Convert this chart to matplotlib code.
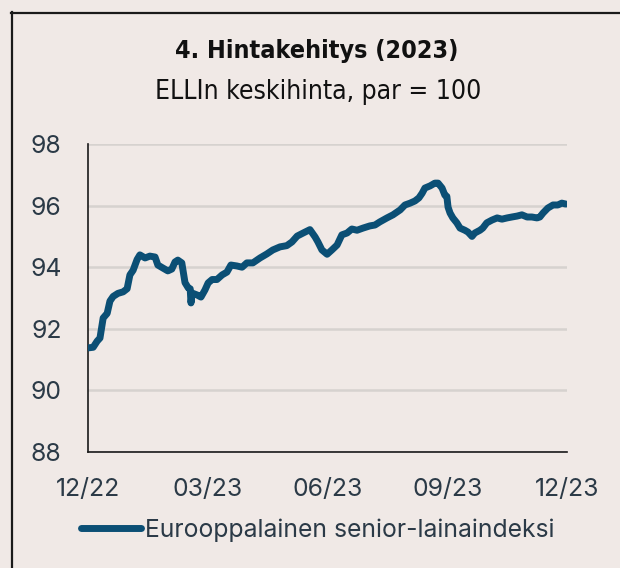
import matplotlib
matplotlib.use('Agg')
import matplotlib.pyplot as plt
from matplotlib import font_manager as fm
from matplotlib.lines import Line2D

# ---- data (months since 12/22, index value) ----
months = [0.00, 0.13, 0.23, 0.30, 0.38, 0.48, 0.55, 0.63, 0.75, 0.88, 0.98,
          1.05, 1.13, 1.23, 1.30, 1.43, 1.55, 1.68, 1.75, 1.88, 2.00, 2.10,
          2.18, 2.25, 2.35, 2.43, 2.51, 2.56, 2.58, 2.61, 2.73, 2.83, 2.93,
          3.01, 3.11, 3.23, 3.36, 3.48, 3.58, 3.73, 3.86, 3.98, 4.13, 4.31,
          4.48, 4.63, 4.81, 4.98, 5.11, 5.24, 5.39, 5.56, 5.69, 5.76, 5.86,
          5.99, 6.11, 6.24, 6.36, 6.49, 6.61, 6.74, 6.89, 7.06, 7.19, 7.31,
          7.49, 7.64, 7.82, 7.94, 8.07, 8.19, 8.29, 8.37, 8.44, 8.57, 8.69,
          8.77, 8.87, 8.94, 8.99, 9.02, 9.07, 9.14, 9.24, 9.32, 9.44, 9.52,
          9.62, 9.69, 9.82, 9.89, 9.99, 10.12, 10.25, 10.37, 10.50, 10.62,
          10.75, 10.87, 11.00, 11.12, 11.25, 11.32, 11.40, 11.52, 11.65,
          11.77, 11.87, 11.97]
values = [91.38, 91.40, 91.60, 91.70, 92.35, 92.50, 92.90, 93.05, 93.15, 93.20, 93.30,
          93.75, 93.90, 94.25, 94.40, 94.30, 94.36, 94.33, 94.07, 93.97, 93.88, 93.94,
          94.17, 94.23, 94.14, 93.50, 93.33, 93.30, 92.84, 93.16, 93.10, 93.03, 93.26,
          93.49, 93.60, 93.60, 93.75, 93.84, 94.07, 94.04, 94.00, 94.14, 94.14, 94.30,
          94.43, 94.56, 94.66, 94.70, 94.82, 95.01, 95.11, 95.22, 94.98, 94.82, 94.56,
          94.42, 94.56, 94.72, 95.05, 95.11, 95.24, 95.20, 95.27, 95.34, 95.37, 95.47,
          95.60, 95.70, 95.86, 96.02, 96.08, 96.15, 96.25, 96.40, 96.57, 96.64, 96.73,
          96.73, 96.57, 96.34, 96.30, 95.95, 95.76, 95.60, 95.44, 95.27, 95.20, 95.14,
          95.00, 95.11, 95.20, 95.27, 95.44, 95.53, 95.60, 95.56, 95.60, 95.63,
          95.66, 95.70, 95.63, 95.63, 95.60, 95.63, 95.76, 95.92, 96.02,
          96.02, 96.08, 96.05]
x_tick_pos = [0, 3, 6, 9, 12]
x_tick_labels = ['12/22', '03/23', '06/23', '09/23', '12/23']
y_ticks = [88, 90, 92, 94, 96, 98]
title = '4. Hintakehitys (2023)'
subtitle = 'ELLIn keskihinta, par = 100'
series_name = 'Eurooppalainen senior-lainaindeksi'

BG = '#f0e9e6'
LINE = '#0b4f75'
TXT = '#2b3a47'
GRID = '#d6d2cf'

# ---- fonts ----
entries = fm.fontManager.ttflist
def has_font(name, stretch=None):
    for f in entries:
        if f.name == name and (stretch is None or str(f.stretch) == stretch):
            return True
    return False

if has_font('DejaVu Sans', 'condensed'):
    cond = dict(family='DejaVu Sans', stretch='condensed')
elif has_font('Liberation Sans Narrow'):
    cond = dict(family='Liberation Sans Narrow')
else:
    cond = dict(family='Roboto')
body_family = 'Inter' if has_font('Inter') else 'DejaVu Sans'

W, H = 620, 568
fig = plt.figure(figsize=(W / 100, H / 100), dpi=100, facecolor=BG)
ax = fig.add_axes([88 / W, 1 - 452 / H, (567 - 88) / W, (452 - 144) / H])
ax.set_facecolor(BG)

ax.plot(months, values, color=LINE, lw=5.0, solid_capstyle='round',
        solid_joinstyle='round', label=series_name, zorder=3)

ax.set_xlim(0, 12)
ax.set_ylim(88, 98)
ax.set_xticks(x_tick_pos)
ax.set_xticklabels(x_tick_labels)
ax.set_yticks(y_ticks)
ax.set_yticklabels([str(v) for v in y_ticks])
ax.tick_params(axis='both', length=0, labelsize=17.8, labelcolor=TXT)
ax.tick_params(axis='y', pad=19)
ax.tick_params(axis='x', pad=18.5)
for lab in ax.get_xticklabels() + ax.get_yticklabels():
    lab.set_family(body_family)

ax.yaxis.grid(True, color=GRID, lw=1.8)
ax.set_axisbelow(True)
for s in ['top', 'right']:
    ax.spines[s].set_visible(False)
for s in ['left', 'bottom']:
    ax.spines[s].set_color('#1a1a1a')
    ax.spines[s].set_linewidth(1.2)

# titles
fig.text(317 / W, 1 - 51 / H, title, ha='center', va='center', fontsize=18,
         fontweight='bold', color='#111111', **cond)
fig.text(318 / W, 1 - 92 / H, subtitle, ha='center', va='center', fontsize=19,
         color='#111111', **cond)

# legend
leg = fig.legend(loc='center', bbox_to_anchor=(318 / W, 1 - 530 / H), frameon=False,
                 handlelength=2.4, handletextpad=0.17, borderaxespad=0,
                 prop=dict(family=body_family, size=17.8))
for t in leg.get_texts():
    t.set_color(TXT)

# frame lines
fig.add_artist(Line2D([11.5 / W, 11.5 / W], [0, 1 - 12 / H], color='#1a1a1a', lw=1.6,
                      transform=fig.transFigure))
fig.add_artist(Line2D([11 / W, 1], [1 - 12.5 / H, 1 - 12.5 / H], color='#1a1a1a', lw=1.6,
                      transform=fig.transFigure))

fig.savefig('out.png', dpi=100, facecolor=BG)
